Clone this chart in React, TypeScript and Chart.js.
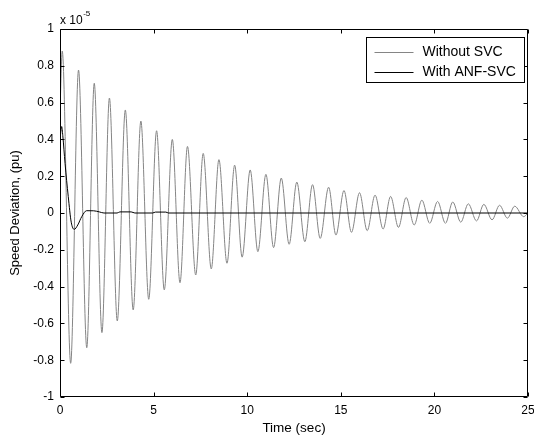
import React, { useEffect, useRef } from "react";
import { Chart, registerables } from "chart.js";

Chart.register(...registerables);

// Time (sec) and speed deviation (x 1e-5 pu), read at the extrema of the curves
const withoutTime = [
  0, 0.12, 0.57, 0.99, 1.43, 1.83, 2.24, 2.64, 3.06, 3.49, 3.91, 4.32, 4.74, 5.16, 5.57, 6.0, 6.41, 6.81,
  7.25, 7.65, 8.08, 8.49, 8.92, 9.33, 9.73, 10.16, 10.57, 11.0, 11.41, 11.82, 12.24, 12.65, 13.08, 13.49,
  13.9, 14.35, 14.74, 15.17, 15.57, 16.0, 16.41, 16.83, 17.26, 17.66, 18.08, 18.49, 18.92, 19.33, 19.75,
  20.17, 20.59, 20.98, 21.41, 21.81, 22.25, 22.64, 23.08, 23.48, 23.9, 24.29, 24.77, 25,
];
const withoutValue = [
  0.55, 0.88, -0.817, 0.777, -0.732, 0.705, -0.65, 0.625, -0.587, 0.56, -0.527, 0.5, -0.469, 0.447, -0.418,
  0.4, -0.379, 0.362, -0.337, 0.324, -0.304, 0.29, -0.273, 0.26, -0.24, 0.234, -0.21, 0.21, -0.188, 0.19,
  -0.17, 0.168, -0.156, 0.154, -0.138, 0.14, -0.12, 0.122, -0.105, 0.11, -0.096, 0.097, -0.087, 0.09, -0.078,
  0.084, -0.065, 0.07, -0.056, 0.063, -0.056, 0.06, -0.05, 0.05, -0.043, 0.047, -0.037, 0.042, -0.028, 0.037,
  -0.02, 0.0,
];
const withTime = [
  0, 0.09, 0.15, 0.27, 0.44, 0.6, 0.76, 0.95, 1.16, 1.42, 1.8, 2.1, 2.35, 3.05, 3.2, 3.8, 4.0, 4.95, 5.1,
  5.65, 5.8, 25,
];
const withValue = [
  0.4, 0.47, 0.42, 0.27, 0.09, -0.05, -0.089, -0.065, -0.02, 0.0125, 0.012, 0.006, 0, 0, 0.006, 0.006, 0, 0,
  0.005, 0.005, 0, 0,
];
const seriesLabels = ["Without SVC", "With ANF-SVC"];
const seriesColors = ["#858585", "#000000"];
const xTickValues = [0, 5, 10, 15, 20, 25];
const yTickValues = [-1, -0.8, -0.6, -0.4, -0.2, 0, 0.2, 0.4, 0.6, 0.8, 1];
const xTitle = "Time (sec)";
const yTitle = "Speed Deviation, (pu)";
const exponentBase = "x 10";
const exponentPower = "-5";

const FONT = "'Liberation Sans', Arial, Helvetica, sans-serif";

const framePlugin = {
  id: "matlabFrame",
  afterDatasetsDraw(chart: any) {
    const { ctx, chartArea, scales } = chart;
    const { left, right, top, bottom } = chartArea;
    const L = Math.round(left) + 0.5;
    const R = Math.round(right) - 0.5;
    const T = Math.round(top) + 0.5;
    const B = Math.round(bottom) - 0.5;
    const tl = 4;
    ctx.save();
    ctx.strokeStyle = "#000";
    ctx.lineWidth = 1;
    ctx.beginPath();
    ctx.rect(L, T, R - L, B - T);
    for (const v of xTickValues) {
      const px = Math.round(scales.x.getPixelForValue(v)) + 0.5;
      ctx.moveTo(px, B);
      ctx.lineTo(px, B - tl);
      ctx.moveTo(px, T);
      ctx.lineTo(px, T + tl);
    }
    for (const v of yTickValues) {
      const py = Math.round(scales.y.getPixelForValue(v)) + 0.5;
      ctx.moveTo(L, py);
      ctx.lineTo(L + tl, py);
      ctx.moveTo(R, py);
      ctx.lineTo(R - tl, py);
    }
    ctx.stroke();

    // exponent label
    ctx.fillStyle = "#000";
    ctx.textBaseline = "alphabetic";
    ctx.textAlign = "left";
    ctx.font = `12px ${FONT}`;
    ctx.fillText(exponentBase, L - 0.5, T - 6);
    const w = ctx.measureText(exponentBase).width;
    ctx.font = `8px ${FONT}`;
    ctx.fillText(exponentPower, L + w, T - 14);

    // legend
    const bw = 158;
    const bh = 45;
    const bx = Math.round(right) - 4 - bw + 0.5;
    const by = Math.round(top) + 8 + 0.5;
    ctx.fillStyle = "#fff";
    ctx.fillRect(bx, by, bw, bh);
    ctx.strokeStyle = "#000";
    ctx.strokeRect(bx, by, bw, bh);
    ctx.font = `14px ${FONT}`;
    ctx.textBaseline = "middle";
    seriesLabels.forEach((label, i) => {
      const yy = Math.round(by + 14 + i * 20) + 0.5;
      ctx.strokeStyle = seriesColors[i];
      ctx.beginPath();
      ctx.moveTo(bx + 8, yy);
      ctx.lineTo(bx + 47, yy);
      ctx.stroke();
      ctx.fillStyle = "#000";
      ctx.fillText(label, bx + 56, yy);
    });
    ctx.restore();
  },
};

export default function App() {
  const canvasRef = useRef<HTMLCanvasElement | null>(null);

  useEffect(() => {
    const canvas = canvasRef.current;
    if (!canvas) return;
    const chart = new Chart(canvas, {
      type: "line",
      data: {
        datasets: [
          {
            label: seriesLabels[0],
            data: withoutTime.map((t, i) => ({ x: t, y: withoutValue[i] })),
            borderColor: seriesColors[0],
            borderWidth: 1,
            pointRadius: 0,
            fill: false,
            cubicInterpolationMode: "monotone",
            order: 2,
          },
          {
            label: seriesLabels[1],
            data: withTime.map((t, i) => ({ x: t, y: withValue[i] })),
            borderColor: seriesColors[1],
            borderWidth: 1,
            pointRadius: 0,
            fill: false,
            cubicInterpolationMode: "monotone",
            order: 1,
          },
        ],
      },
      options: {
        responsive: false,
        animation: false,
        devicePixelRatio: 1,
        events: [],
        layout: { padding: { left: 0, right: 6, top: 29, bottom: 0 } },
        plugins: {
          legend: { display: false },
          tooltip: { enabled: false },
          title: { display: false },
        },
        scales: {
          x: {
            type: "linear",
            min: 0,
            max: 25,
            grid: { display: false, drawTicks: false },
            border: { display: false },
            afterBuildTicks: (s: any) => {
              s.ticks = xTickValues.map((v) => ({ value: v }));
            },
            afterFit: (s: any) => {
              s.height = 39;
              s.paddingLeft = 0;
              s.paddingRight = 0;
            },
            ticks: {
              color: "#000",
              padding: 6,
              maxRotation: 0,
              autoSkip: false,
              font: { family: FONT, size: 12 },
              callback: (v: any) => String(Math.round(Number(v) * 10) / 10),
            },
            title: {
              display: true,
              text: xTitle,
              color: "#000",
              font: { family: FONT, size: 13.5 },
              padding: { top: 0, bottom: 0 },
            },
          },
          y: {
            type: "linear",
            min: -1,
            max: 1,
            grid: { display: false, drawTicks: false },
            border: { display: false },
            afterBuildTicks: (s: any) => {
              s.ticks = yTickValues.map((v) => ({ value: v }));
            },
            afterFit: (s: any) => {
              s.width = 60;
              s.paddingTop = 0;
              s.paddingBottom = 0;
            },
            ticks: {
              color: "#000",
              padding: 6,
              autoSkip: false,
              font: { family: FONT, size: 12 },
              callback: (v: any) => String(Math.round(Number(v) * 10) / 10 || 0),
            },
            title: {
              display: true,
              text: yTitle,
              color: "#000",
              font: { family: FONT, size: 13 },
              padding: { top: 8, bottom: 0 },
            },
          },
        },
      },
      plugins: [framePlugin],
    });
    return () => chart.destroy();
  }, []);

  return (
    <div style={{ position: "fixed", left: 0, top: 0, width: 534, height: 436, background: "#fff" }}>
      <canvas ref={canvasRef} width={534} height={436} style={{ display: "block" }} />
    </div>
  );
}
